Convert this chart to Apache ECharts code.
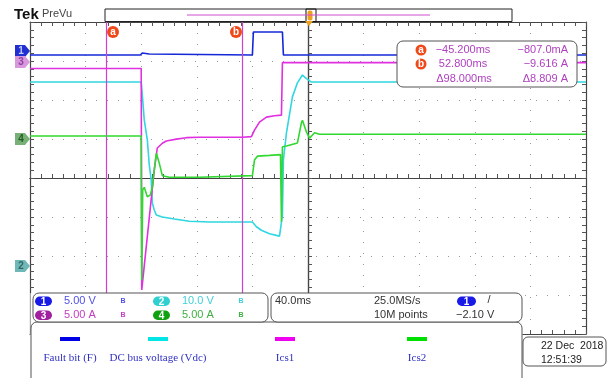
<!DOCTYPE html>
<html>
<head>
<meta charset="utf-8">
<script src="https://cdn.jsdelivr.net/npm/echarts@6/dist/echarts.min.js"></script>
<style>
  html, body { margin: 0; padding: 0; background: #fff; }
  #chart { width: 612px; height: 378px; }
</style>
</head>
<body>
<div id="chart"></div>
<script>
// scope time in ms (trigger = 0), screen centre sits at +100 ms
var timeFault = [-100, -20.7, -19.2, -14.2, -12.8, 60.0, 60.7, 81.6, 82.3, 300];
var voltFault = [-0.38, -0.38, -0.13, -0.26, -0.38, -0.38, 2.56, 2.56, -0.38, -0.38];

var timeVdc = [-100, -20, -19.2, -17.8, -15.6, -14.2, -12.8, -12.0, -10.6, -9.1, -4.8, 3.8, 14.6, 29.0, 60.0, 62.9, 66.5, 72.3, 79.5, 80.9, 81.6, 82.3, 84.5, 88.8, 92.4, 96.0, 98.9, 102.5, 300];
var voltVdc = [47.4, 47.4, 44.1, 37.7, 32.6, 26.2, 22.3, 16.4, 14.6, 13.3, 12.8, 12.3, 11.7, 11.5, 11.5, 10.3, 9.4, 8.5, 7.9, 7.7, 13.3, 27.4, 34.4, 43.6, 47.2, 49.2, 48.3, 47.4, 47.4];

var timeIcs1 = [-100, -20, -19.6, -10.6, -8.4, -4.8, -1.9, 5.3, 12.5, 21.8, 52.8, 59.3, 61.5, 65.1, 70.1, 75.9, 80.9, 81.6, 300];
var ampIcs1 = [-0.81, -0.81, -29.2, -13.8, -11.0, -10.4, -10.1, -9.87, -9.68, -9.62, -9.62, -9.55, -8.72, -7.69, -7.05, -6.86, -6.79, -0.06, -0.06];

var timeIcs2 = [-100, -20, -19.6, -18.9, -17.8, -15.6, -13.5, -12.0, -10.6, -9.1, -7.0, -4.8, 0.2, 21.8, 60.0, 61.5, 63.6, 72.3, 80.2, 80.9, 81.6, 84.5, 92.4, 95.3, 96.0, 98.9, 101.1, 104.7, 108.3, 300];
var ampIcs2 = [0.38, 0.38, -18.1, -6.5, -6.2, -7.4, -7.2, -6.2, -4.0, -1.8, -3.1, -4.7, -4.9, -4.9, -4.7, -2.7, -2.2, -2.1, -2.0, -10.6, -1.0, -0.9, -0.5, 2.1, 2.4, 0.9, 0.1, 0.8, 0.6, 0.6];

var seriesNames = ['Fault bit (F)', 'DC bus voltage (Vdc)', 'Ics1', 'Ics2'];
var channelNums = ['1', '2', '3', '4'];
var voltsPerDiv = [5, 10, 5, 5];       // 5.00 V, 10.0 V, 5.00 A, 5.00 A
var groundDiv = [3.23, -2.28, 2.97, 1.0];
var cursorTimes = [-45.2, 52.8];
var cursorAmps = [-0.807, -9.616];

var screenCentre = 100;
var traceColors = ['#1428d8', '#30d6e0', '#e030e0', '#30d830'];
var legendColors = ['#0000e6', '#00e6e6', '#f000f0', '#00e000'];

function toDiv(ch, times, vals) {
  return times.map(function (t, i) {
    return [t - screenCentre, groundDiv[ch] + vals[i] / voltsPerDiv[ch]];
  });
}

var chart = echarts.init(document.getElementById('chart'));

var tickColor = '#555';
function xAx(extra) {
  return Object.assign({
    type: 'value', min: -200, max: 200, interval: 40,
    axisLine: { onZero: false, lineStyle: { color: '#444', width: 1.2 } },
    axisTick: { inside: true, length: 4, lineStyle: { color: tickColor } },
    minorTick: { show: true, splitNumber: 5, length: 4, lineStyle: { color: tickColor } },
    axisLabel: { show: false },
    splitLine: { show: false }
  }, extra);
}
function yAx(extra) {
  return Object.assign({
    type: 'value', min: -4, max: 4, interval: 1,
    axisLine: { onZero: false, lineStyle: { color: '#444', width: 1.2 } },
    axisTick: { inside: true, length: 4, lineStyle: { color: tickColor } },
    minorTick: { show: true, splitNumber: 5, length: 4, lineStyle: { color: tickColor } },
    axisLabel: { show: false },
    splitLine: { show: false }
  }, extra);
}

var dotted = { show: true, lineStyle: { color: '#9a9a9a', type: [1, 10], width: 1 } };

var traces = [
  toDiv(0, timeFault, voltFault),
  toDiv(1, timeVdc, voltVdc),
  toDiv(2, timeIcs1, ampIcs1),
  toDiv(3, timeIcs2, ampIcs2)
];

var series = traces.map(function (d, i) {
  return {
    name: seriesNames[i],
    type: 'line',
    data: d,
    showSymbol: false,
    symbol: 'none',
    animation: false,
    lineStyle: { color: traceColors[i], width: 1.6 },
    itemStyle: { color: traceColors[i] },
    z: 3 + i
  };
});
// cursor lines
series.push({
  type: 'line',
  data: [],
  markLine: {
    silent: true,
    symbol: 'none',
    label: { show: false },
    lineStyle: { color: '#d040d0', width: 1.2, type: 'solid' },
    data: cursorTimes.map(function (t) { return { xAxis: t - screenCentre }; })
  },
  z: 2
});

function fmtTime(t) {
  return (t < 0 ? '\u2212' : '') + Math.abs(t).toFixed(3) + 'ms';
}
function fmtAmp(a) {
  var s = a < 0 ? '\u2212' : '';
  if (Math.abs(a) < 1) return s + (Math.abs(a) * 1000).toFixed(1) + 'mA';
  return s + Math.abs(a).toFixed(3) + ' A';
}

var font = '"Liberation Sans", Arial, sans-serif';
var g = [];
function txt(x, y, s, size, color, align, weight, fam) {
  g.push({
    type: 'text', x: x, y: y, z: 120,
    style: {
      text: s, fill: color, align: align || 'left', verticalAlign: 'middle',
      font: (weight || 'normal') + ' ' + size + 'px ' + (fam || font)
    }
  });
}
function box(x, y, w, h, r, fill, stroke, z) {
  g.push({
    type: 'rect', z: z || 110,
    shape: { x: x, y: y, width: w, height: h, r: r },
    style: { fill: fill, stroke: stroke || 'none', lineWidth: 1 }
  });
}
function pill(x, y, w, h, fill, label) {
  box(x, y, w, h, h / 2, fill, null, 115);
  txt(x + w / 2, y + h / 2 + 0.5, label, 10, '#fff', 'center', 'bold');
}
function dot(cx, cy, r, label) {
  g.push({ type: 'circle', z: 115, shape: { cx: cx, cy: cy, r: r }, style: { fill: '#f04818' } });
  txt(cx, cy + 0.5, label, 10, '#fff', 'center', 'bold');
}

// header
txt(14, 15, 'Tek', 15, '#111', 'left', 'bold');
txt(42, 14, 'PreVu', 11, '#444');
box(105, 9, 407, 12.5, 0, 'none', '#222');
g.push({ type: 'line', z: 112, shape: { x1: 187, y1: 15, x2: 430, y2: 15 }, style: { stroke: '#d050d0', lineWidth: 1.2 } });
box(306, 9, 10, 12.5, 0, 'none', '#111');
box(307.5, 10.5, 5, 10, 2, '#f0a020');
g.push({ type: 'polygon', z: 116, shape: { points: [[305, 21], [313, 21], [309, 26]] }, style: { fill: '#f0a020' } });

// channel ground markers
var markerFill = ['#2030d0', '#70b8b8', '#d898dc', '#78b078'];
var markerText = ['#c0c8ff', '#306868', '#9040a0', '#206020'];
var markerY = [51, 266, 62, 139];
markerY.forEach(function (cy, i) {
  g.push({
    type: 'polygon', z: 114,
    shape: { points: [[15, cy - 6], [25, cy - 6], [30, cy], [25, cy + 6], [15, cy + 6]] },
    style: { fill: markerFill[i] }
  });
  txt(21, cy + 0.5, channelNums[i], 10, markerText[i], 'center', 'bold');
});

// cursor tags
dot(113, 32, 6, 'a');
dot(236, 32, 6, 'b');

// cursor readout
box(397, 41, 180, 46, 6, '#fff', '#555');
var cColor = '#b040c0';
dot(421, 50, 5.5, 'a');
dot(421, 64, 5.5, 'b');
txt(463, 50, fmtTime(cursorTimes[0]), 11, cColor, 'center');
txt(463, 64, fmtTime(cursorTimes[1]), 11, cColor, 'center');
txt(464, 79, '\u0394' + (cursorTimes[1] - cursorTimes[0]).toFixed(3) + 'ms', 11, cColor, 'center');
txt(568, 50, fmtAmp(cursorAmps[0]), 11, cColor, 'right');
txt(568, 64, fmtAmp(cursorAmps[1]), 11, cColor, 'right');
txt(568, 79, '\u0394' + Math.abs(cursorAmps[1] - cursorAmps[0]).toFixed(3) + ' A', 11, cColor, 'right');

// lower white area covering the graticule
box(30.5, 293, 492, 90, 0, '#fff', null, 105);
// legend frame
box(31, 322, 491, 80, 6, '#fff', '#555', 106);
// channel panel
box(33, 293, 235, 29, 6, '#fff', '#555');
box(271, 293, 251, 29, 6, '#fff', '#555');

var pillFill = ['#1a1ae6', '#30d0d0', '#a020a0', '#10a010'];
var scaleText = ['#5050e8', '#40d0d8', '#c040c0', '#40b040'];
var units = ['V', 'V', 'A', 'A'];
var pillX = [35, 153, 35, 153];
var rowY = [301, 301, 315, 315];
[0, 1, 2, 3].forEach(function (i) {
  pill(pillX[i], rowY[i] - 4.5, 17, 9.5, pillFill[i], channelNums[i]);
  var v = voltsPerDiv[i] >= 10 ? voltsPerDiv[i].toFixed(1) : voltsPerDiv[i].toFixed(2);
  txt(pillX[i] + 29, rowY[i], v + ' ' + units[i], 11, scaleText[i]);
  txt(pillX[i] + 88, rowY[i], 'B', 7, scaleText[i], 'center', 'bold');
});
txt(275, 301, '40.0ms', 11, '#333');
txt(374, 301, '25.0MS/s', 11, '#333');
txt(374, 315, '10M points', 11, '#333');
pill(457, 296.5, 19, 9.5, '#1a1ae6', '1');
txt(489, 300, '/', 11, '#333', 'center');
txt(456, 315, '\u22122.10 V', 11, '#333');

// legend
var legX = [70, 158, 285, 417];
seriesNames.forEach(function (n, i) {
  g.push({ type: 'line', z: 115, shape: { x1: legX[i] - 10, y1: 339, x2: legX[i] + 10, y2: 339 }, style: { stroke: legendColors[i], lineWidth: 4 } });
  txt(legX[i], 358, n, 11, '#3030c0', 'center', 'normal', '"Liberation Serif", "Times New Roman", serif');
});

// date box
box(523, 337, 83, 29, 5, '#fff', '#555');
txt(541, 346, '22 Dec  2018', 10.5, '#222');
txt(541, 360, '12:51:39', 10.5, '#222');

chart.setOption({
  animation: false,
  backgroundColor: '#fff',
  grid: { left: 30, top: 22, width: 556, height: 312, show: false },
  xAxis: [
    xAx({ axisLine: { onZero: true, lineStyle: { color: '#444', width: 1.2 } }, splitLine: dotted }),
    xAx({ axisLine: { onZero: true, lineStyle: { color: '#444', width: 1.2 } }, axisTick: { inside: false, length: 4, lineStyle: { color: tickColor } }, minorTick: { show: true, splitNumber: 5, length: 4, lineStyle: { color: tickColor } } }),
    xAx({ position: 'top' }),
    xAx({ position: 'bottom' })
  ],
  yAxis: [
    yAx({ axisLine: { onZero: true, lineStyle: { color: '#444', width: 1.2 } }, splitLine: dotted }),
    yAx({ axisLine: { onZero: true, lineStyle: { color: '#444', width: 1.2 } }, axisTick: { inside: false, length: 4, lineStyle: { color: tickColor } }, minorTick: { show: true, splitNumber: 5, length: 4, lineStyle: { color: tickColor } } }),
    yAx({ position: 'left' }),
    yAx({ position: 'right' })
  ],
  series: series,
  graphic: { elements: g }
});
</script>
</body>
</html>
